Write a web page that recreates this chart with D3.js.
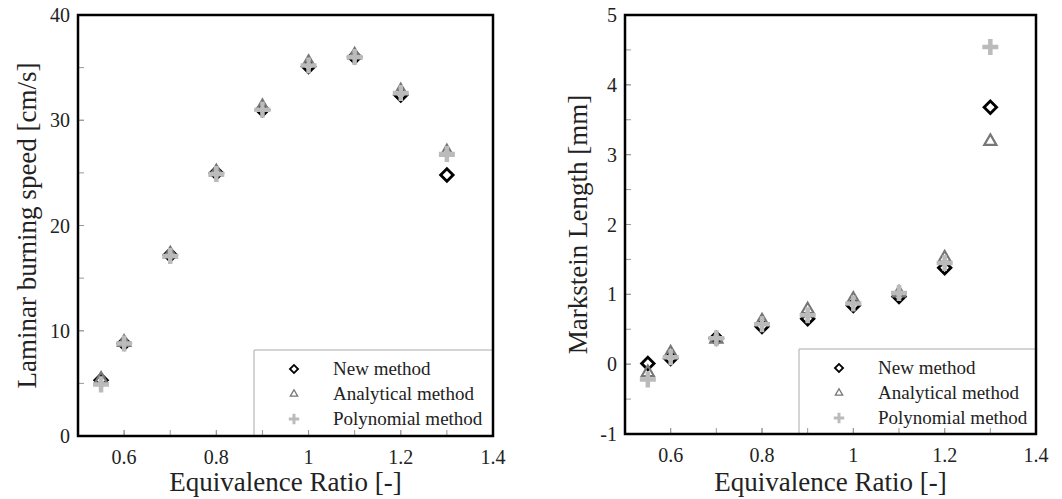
<!DOCTYPE html>
<html><head><meta charset="utf-8">
<script src="https://cdn.jsdelivr.net/npm/d3@7"></script>
<style>body{margin:0;background:#fff}svg{display:block}</style>
</head><body>
<svg id="c" width="1062" height="499"></svg>
<script>
const phi = [0.55, 0.6, 0.7, 0.8, 0.9, 1.0, 1.1, 1.2, 1.3];
// Laminar burning speed [cm/s]
const speedNew = [5.3, 8.8, 17.2, 25.0, 31.0, 35.1, 36.0, 32.4, 24.8];
const speedAnalytical = [5.4, 8.9, 17.3, 25.1, 31.3, 35.5, 36.2, 32.8, 27.0];
const speedPolynomial = [4.9, 8.8, 17.1, 24.9, 31.0, 35.2, 36.0, 32.6, 26.8];
// Markstein length [mm]
const markNew = [0.01, 0.08, 0.37, 0.54, 0.65, 0.84, 0.97, 1.38, 3.68];
const markAnalytical = [-0.12, 0.16, 0.36, 0.62, 0.78, 0.93, 1.02, 1.52, 3.19];
const markPolynomial = [-0.22, 0.10, 0.37, 0.57, 0.70, 0.87, 1.02, 1.45, 4.54];
const xTicks = [0.6, 0.8, 1, 1.2, 1.4];
const xMinor = [0.5, 0.6, 0.7, 0.8, 0.9, 1.0, 1.1, 1.2, 1.3];
const speedTicks = [0, 10, 20, 30, 40];
const speedMinor = [5, 10, 15, 20, 25, 30, 35];
const markTicks = [-1, 0, 1, 2, 3, 4, 5];
const markMinor = [-0.5, 0, 0.5, 1, 1.5, 2, 2.5, 3, 3.5, 4, 4.5];
const legendLabels = ["New method", "Analytical method", "Polynomial method"];

const svg = d3.select("#c");
const font = "'Liberation Serif','Times New Roman',serif";

function panel(opt) {
  const g = svg.append("g");
  const x = d3.scaleLinear().domain([0.5, 1.4]).range([opt.left, opt.right]);
  const y = d3.scaleLinear().domain(opt.ydom).range([opt.bottom, opt.top]);

  // inward minor/major ticks
  const tg = g.append("g").attr("stroke", "#999").attr("stroke-width", 1);
  xMinor.concat(xTicks).forEach(v => {
    tg.append("line").attr("x1", x(v)).attr("x2", x(v)).attr("y1", opt.bottom).attr("y2", opt.bottom - 6);
  });
  opt.minor.concat(opt.ticks).forEach(v => {
    tg.append("line").attr("x1", opt.left).attr("x2", opt.left + 6).attr("y1", y(v)).attr("y2", y(v));
  });

  // tick labels
  g.selectAll(".xt").data(xTicks).enter().append("text")
    .attr("x", d => x(d)).attr("y", opt.bottom + 28)
    .attr("text-anchor", "middle").attr("font-family", font).attr("font-size", 20).attr("fill", "#222")
    .text(d => d3.format("")(d));
  g.selectAll(".yt").data(opt.ticks).enter().append("text")
    .attr("x", opt.left - 8).attr("y", d => y(d) + 7)
    .attr("text-anchor", "end").attr("font-family", font).attr("font-size", 20).attr("fill", "#222")
    .text(d => d);

  // axis titles
  g.append("text").attr("x", (opt.left + opt.right) / 2).attr("y", 491)
    .attr("text-anchor", "middle").attr("font-family", font).attr("font-size", 27).attr("fill", "#222")
    .text("Equivalence Ratio [-]");
  g.append("text").attr("transform", `translate(${opt.ytx},${(opt.top + opt.bottom) / 2}) rotate(-90)`)
    .attr("text-anchor", "middle").attr("font-family", font).attr("font-size", 27).attr("fill", "#222")
    .text(opt.ytitle);

  // legend box
  g.append("path")
    .attr("d", `M${opt.legX},${opt.bottom} V${opt.legY} H${opt.right}`)
    .attr("fill", "none").attr("stroke", "#aaa").attr("stroke-width", 1);

  const sym = {
    diamond: (sel) => sel.append("path").attr("d", d3.symbol(d3.symbolSquare, 78)())
      .attr("fill", "none").attr("stroke", "#000").attr("stroke-width", 2.8),
    triangle: (sel) => sel.append("path").attr("d", d3.symbol(d3.symbolTriangle, 64)())
      .attr("fill", "none").attr("stroke", "#777").attr("stroke-width", 2.2),
    plus: (sel) => sel.append("path").attr("d", "M-8,0H8M0,-8V8")
      .attr("fill", "none").attr("stroke", "#bbb").attr("stroke-width", 4.5)
  };
  function draw(vals, kind) {
    vals.forEach((v, i) => {
      const s = g.append("g").attr("transform", `translate(${x(phi[i])},${y(v)})` + (kind === "diamond" ? " rotate(45)" : ""));
      sym[kind](s);
    });
  }
  draw(opt.series[0], "diamond");
  draw(opt.series[1], "triangle");
  draw(opt.series[2], "plus");

  // legend entries
  const kinds = ["diamond", "triangle", "plus"];
  kinds.forEach((k, i) => {
    const yy = opt.legY + 19 + i * 25;
    const s = g.append("g").attr("transform", `translate(${opt.legMX},${yy})` + (k === "diamond" ? " rotate(45) scale(0.65)" : (k === "triangle" ? " scale(0.6)" : " scale(0.65)")));
    sym[k](s);
    g.append("text").attr("x", opt.legTX).attr("y", yy + 6)
      .attr("font-family", font).attr("font-size", 19).attr("fill", "#222")
      .text(legendLabels[i]);
  });

  // frame
  g.append("rect").attr("x", opt.left).attr("y", opt.top)
    .attr("width", opt.right - opt.left).attr("height", opt.bottom - opt.top)
    .attr("fill", "none").attr("stroke", "#000").attr("stroke-width", 2.5);
}

panel({left: 78, right: 493, top: 15, bottom: 436, ydom: [0, 40],
  ticks: speedTicks, minor: speedMinor, ytitle: "Laminar burning speed [cm/s]", ytx: 36,
  series: [speedNew, speedAnalytical, speedPolynomial],
  legX: 254, legY: 350, legMX: 294, legTX: 333});
panel({left: 625, right: 1036, top: 15, bottom: 434, ydom: [-1, 5],
  ticks: markTicks, minor: markMinor, ytitle: "Markstein Length [mm]", ytx: 587,
  series: [markNew, markAnalytical, markPolynomial],
  legX: 799, legY: 349, legMX: 839, legTX: 878});
</script>
</body></html>
